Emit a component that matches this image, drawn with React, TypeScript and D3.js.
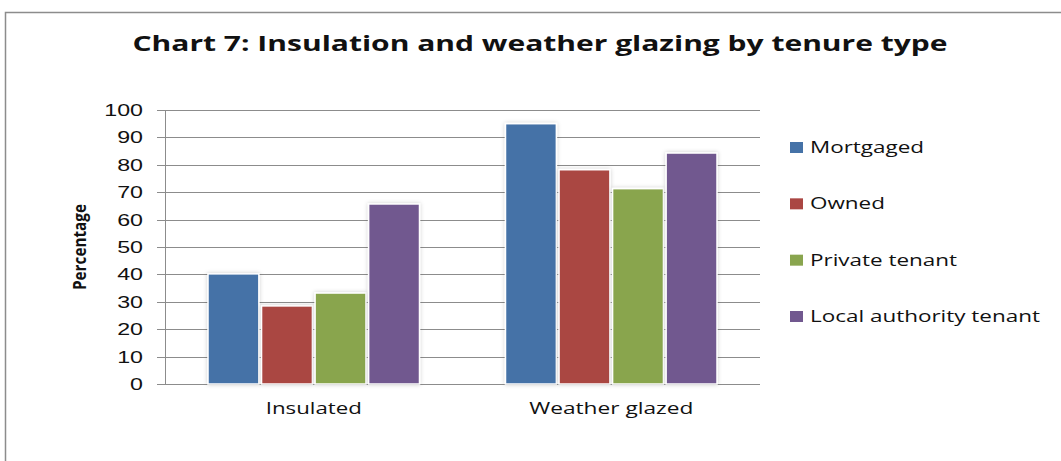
import React, { useEffect, useRef } from 'react';
import * as d3 from 'd3';

const categories = ['Insulated', 'Weather glazed'];
const seriesNames = ['Mortgaged', 'Owned', 'Private tenant', 'Local authority tenant'];
const seriesColors = ['#4572A7', '#AA4643', '#89A54E', '#71588F'];
// values per series, in category order
const mortgaged = [40.2, 95.0];
const owned = [28.5, 78.2];
const privateTenant = [33.2, 71.3];
const localAuthority = [65.7, 84.3];
const yTicks = [0, 10, 20, 30, 40, 50, 60, 70, 80, 90, 100];

const seriesValues = [mortgaged, owned, privateTenant, localAuthority];

// widen text horizontally (the source chart is a stretched screenshot)
function stretch(sel: any, k: number) {
  sel.each(function (this: SVGTextElement) {
    const w = this.getComputedTextLength();
    d3.select(this).attr('textLength', w * k).attr('lengthAdjust', 'spacingAndGlyphs');
  });
}

export default function App() {
  const svgRef = useRef<SVGSVGElement>(null);

  useEffect(() => {
    const width = 1061;
    const height = 461;
    const svg = d3.select(svgRef.current).attr('width', width).attr('height', height);
    svg.selectAll('*').remove();

    const left = 165, right = 760, top = 110, bottom = 384;

    // outer frame
    svg.append('rect')
      .attr('x', 5.5).attr('y', 12.5)
      .attr('width', 1100).attr('height', 500)
      .attr('fill', 'white').attr('stroke', '#8c8c8c').attr('stroke-width', 1.5);

    // title
    svg.append('text')
      .attr('x', 540).attr('y', 51)
      .attr('text-anchor', 'middle')
      .attr('font-family', 'Open Sans, sans-serif')
      .attr('font-weight', 'bold')
      .attr('font-size', 22)
      .attr('textLength', 815)
      .attr('lengthAdjust', 'spacingAndGlyphs')
      .attr('fill', '#111')
      .text('Chart 7: Insulation and weather glazing by tenure type');

    const x0 = d3.scaleBand().domain(categories).range([left, right]);
    const x1 = d3.scaleBand().domain(seriesNames).range([43, x0.bandwidth() - 43]).paddingInner(0.05);
    const y = d3.scaleLinear().domain([0, 100]).range([bottom, top]);

    // gridlines + tick marks
    svg.append('g')
      .selectAll('line')
      .data(yTicks)
      .enter()
      .append('line')
      .attr('x1', left - 8).attr('x2', right)
      .attr('y1', (d) => Math.round(y(d)) + 0.5)
      .attr('y2', (d) => Math.round(y(d)) + 0.5)
      .attr('stroke', '#8c8c8c').attr('stroke-width', 1);

    // y tick labels
    const tickText = svg.append('g')
      .selectAll('text')
      .data(yTicks)
      .enter()
      .append('text')
      .attr('x', 143).attr('y', (d) => y(d) + 6)
      .attr('text-anchor', 'end')
      .attr('font-family', 'Liberation Sans, sans-serif')
      .attr('font-size', 16)
      .attr('fill', '#111')
      .text((d) => String(d));
    stretch(tickText, 1.45);

    // axis line
    svg.append('line')
      .attr('x1', left + 0.5).attr('x2', left + 0.5)
      .attr('y1', top).attr('y2', bottom)
      .attr('stroke', '#8c8c8c');

    // y axis title
    svg.append('text')
      .attr('transform', `translate(86, ${(top + bottom) / 2}) rotate(-90)`)
      .attr('text-anchor', 'middle')
      .attr('font-family', 'Open Sans, sans-serif')
      .attr('font-weight', 'bold')
      .attr('font-size', 17)
      .attr('textLength', 86)
      .attr('lengthAdjust', 'spacingAndGlyphs')
      .attr('fill', '#111')
      .text('Percentage');

    // shadow filter
    const defs = svg.append('defs');
    const f = defs.append('filter').attr('id', 'shadow').attr('x', '-20%').attr('y', '-20%').attr('width', '140%').attr('height', '140%');
    f.append('feDropShadow').attr('dx', 0).attr('dy', 0).attr('stdDeviation', 2).attr('flood-color', '#000').attr('flood-opacity', 0.2);

    // bars
    const groups = svg.append('g')
      .selectAll('g')
      .data(categories)
      .enter()
      .append('g')
      .attr('transform', (c) => `translate(${x0(c)}, 0)`);

    groups.selectAll('rect')
      .data((c, ci) => seriesNames.map((s, si) => ({ s, si, v: seriesValues[si][ci] })))
      .enter()
      .append('rect')
      .attr('x', (d) => x1(d.s)!)
      .attr('width', x1.bandwidth())
      .attr('y', (d) => y(d.v))
      .attr('height', (d) => bottom - y(d.v))
      .attr('fill', (d) => seriesColors[d.si])
      .attr('stroke', 'white')
      .attr('stroke-width', 1.5)
      .attr('filter', 'url(#shadow)');

    // category labels
    svg.append('g')
      .selectAll('text')
      .data(categories)
      .enter()
      .append('text')
      .attr('x', (c) => x0(c)! + x0.bandwidth() / 2)
      .attr('y', 414)
      .attr('text-anchor', 'middle')
      .attr('font-family', 'Open Sans, sans-serif')
      .attr('font-size', 16)
      .attr('textLength', (c) => (c === 'Insulated' ? 96 : 164))
      .attr('lengthAdjust', 'spacingAndGlyphs')
      .attr('fill', '#111')
      .text((c) => c);

    // legend
    const legendY = d3.scalePoint().domain(seriesNames).range([147, 316]);
    const lg = svg.append('g')
      .selectAll('g')
      .data(seriesNames)
      .enter()
      .append('g')
      .attr('transform', (s) => `translate(790, ${legendY(s)})`);
    lg.append('rect')
      .attr('x', 0).attr('y', -5).attr('width', 13).attr('height', 11)
      .attr('fill', (s, i) => seriesColors[i]);
    const legendText = lg.append('text')
      .attr('x', 20).attr('y', 6)
      .attr('font-family', 'Open Sans, sans-serif')
      .attr('font-size', 17)
      .attr('fill', '#111')
      .text((s) => s);
    stretch(legendText, 1.32);
  }, []);

  return (
    <div style={{ position: 'absolute', left: 0, top: 0 }}>
      <svg ref={svgRef}></svg>
    </div>
  );
}
